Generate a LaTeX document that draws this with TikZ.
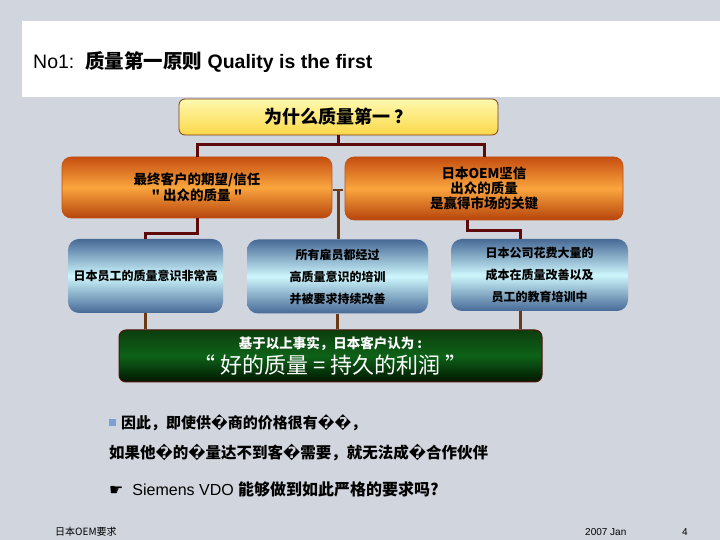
\documentclass[tikz,border=0pt]{standalone}
\usepackage{fontspec}
\setmainfont{Liberation Sans}
\newfontfamily\cjk{Noto Sans CJK SC}
\newfontfamily\dvs{DejaVu Sans}
\newcommand\repch{{\dvs\char"FFFD}}
\usetikzlibrary{calc}
\definecolor{bg}{RGB}{209,213,221}
\definecolor{conred}{RGB}{95,10,10}
\definecolor{conbrown}{RGB}{105,58,20}
\definecolor{orD}{RGB}{198,78,16}
\definecolor{orL}{RGB}{250,165,62}
\definecolor{orB}{RGB}{182,68,12}
\definecolor{blD}{RGB}{70,105,150}
\definecolor{blL}{RGB}{205,246,252}
\definecolor{ylT}{RGB}{255,250,175}
\definecolor{ylB}{RGB}{250,215,72}
\definecolor{grT}{RGB}{12,62,14}
\definecolor{grM}{RGB}{14,98,24}
\definecolor{grB}{RGB}{0,22,0}
\definecolor{bullet}{RGB}{125,160,210}
\tikzset{
  ybox/.style={draw={rgb,255:red,120;green,60;blue,20}, line width=0.8pt, rounded corners=6pt,
    top color=ylT, bottom color=ylB, inner sep=0pt, align=center,
    font=\cjk\bfseries\fontsize{18}{22}\selectfont},
  obox/.style={draw={rgb,255:red,190;green,80;blue,20}, line width=0.6pt, rounded corners=9pt,
    top color=orD, bottom color=orB, middle color=orL, inner sep=0pt, align=center},
  bbox/.style={rounded corners=11pt, top color=blD, bottom color=blD, middle color=blL,
    inner sep=0pt, align=center, font=\cjk\bfseries\fontsize{12}{22}\selectfont},
  gbox/.style={draw={rgb,255:red,80;green,20;blue,10}, line width=1pt, rounded corners=7pt,
    top color=grT, bottom color=grB, middle color=grM, inner sep=0pt, align=center, text=white},
  redcon/.style={draw=conred, line width=3pt},
  browncon/.style={draw=conbrown, line width=3pt},
  plain/.style={inner sep=0pt, anchor=west},
}
\begin{document}
\begin{tikzpicture}[x=1pt,y=1pt]
\fill[bg] (0,0) rectangle (720,540);
\useasboundingbox (0,0) rectangle (720,540);
\fill[white] (22,443) rectangle (720,519);
\node[plain] (title) at (33,478) {\fontsize{19.5}{23}\selectfont No1:\ \ {\cjk\bfseries 质量第一原则} \textbf{Quality is the first}};

% boxes
\node[ybox, minimum width=319pt, minimum height=36pt] (Y) at (338.5,423) {为什么质量第一 ？};
\node[obox, minimum width=270pt, minimum height=61pt,
  font=\cjk\bfseries\fontsize{13.5}{16}\selectfont] (OL) at (197,352.5)
  {最终客户的期望/信任\\" 出众的质量 "};
\node[obox, minimum width=278pt, minimum height=63pt,
  font=\cjk\bfseries\fontsize{13.5}{15}\selectfont] (OR) at (484,351.5)
  {日本OEM坚信\\出众的质量\\是赢得市场的关键};
\node[bbox, minimum width=155pt, minimum height=74pt] (BL) at (145.5,264) {日本员工的质量意识非常高};
\node[bbox, minimum width=181pt, minimum height=74pt] (BM) at (337.5,263.5) {所有雇员都经过\\高质量意识的培训\\并被要求持续改善};
\node[bbox, minimum width=177pt, minimum height=72pt] (BR) at (539.5,265) {日本公司花费大量的\\成本在质量改善以及\\员工的教育培训中};
\node[gbox, minimum width=423pt, minimum height=52pt] (G) at (330.5,184)
  {{\cjk\bfseries\fontsize{13.5}{17}\selectfont 基于以上事实，日本客户认为 :}\\[3pt]
   {\cjk\fontsize{22}{24}\selectfont “ 好的质量 = 持久的利润 ”}};

% connectors
\coordinate (tcap) at (338,350);
\coordinate (xr1) at (467,0);
\coordinate (xr2) at (520,0);
\draw[redcon] (Y.south) -- ++(0,-9.5) coordinate (hm);
\draw[redcon] (OL.north) |- (hm) -| (OR.north);
\draw[redcon] (OL.south) -- ++(0,-15) -| (BL.north);
\draw[redcon] (OR.south -| xr1) -- ++(0,-10) -| (BR.north -| xr2);
\draw[browncon] (tcap) -- (tcap |- BM.north);
\draw[browncon, line width=2.5pt] ([xshift=-5pt]tcap) -- ([xshift=5pt]tcap);
\draw[browncon] (BL.south) -- (BL.south |- G.north);
\draw[browncon] (BM.south) -- (BM.south |- G.north);
\draw[browncon] (BR.south -| xr2) -- (G.north -| xr2);

% bullets and remarks
\node[fill=bullet, minimum size=7pt, inner sep=0pt] (sq) at (112,117) {};
\node[plain, font=\cjk\bfseries\fontsize{15}{20}\selectfont] (t1) at (121,117)
  {因此，即使供\repch 商的价格很有\repch\repch ，};
\node[plain, font=\cjk\bfseries\fontsize{15.5}{20}\selectfont] (t2) at (109,87)
  {如果他\repch 的\repch 量达不到客\repch 需要，就无法成\repch 合作伙伴};
\node[plain, font=\fontsize{16}{20}\selectfont] (t3) at (109,51)
  {{\dvs ☛}\ \ Siemens VDO {\cjk\bfseries 能够做到如此严格的要求吗?}};

% footer
\node[plain, font=\cjk\fontsize{10}{12}\selectfont] (f1) at (55,8) {日本OEM要求};
\node[plain, font=\fontsize{10}{12}\selectfont] (f2) at (585,8) {2007 Jan};
\node[plain, font=\fontsize{10}{12}\selectfont] (f3) at (682,8) {4};
\end{tikzpicture}
\end{document}
